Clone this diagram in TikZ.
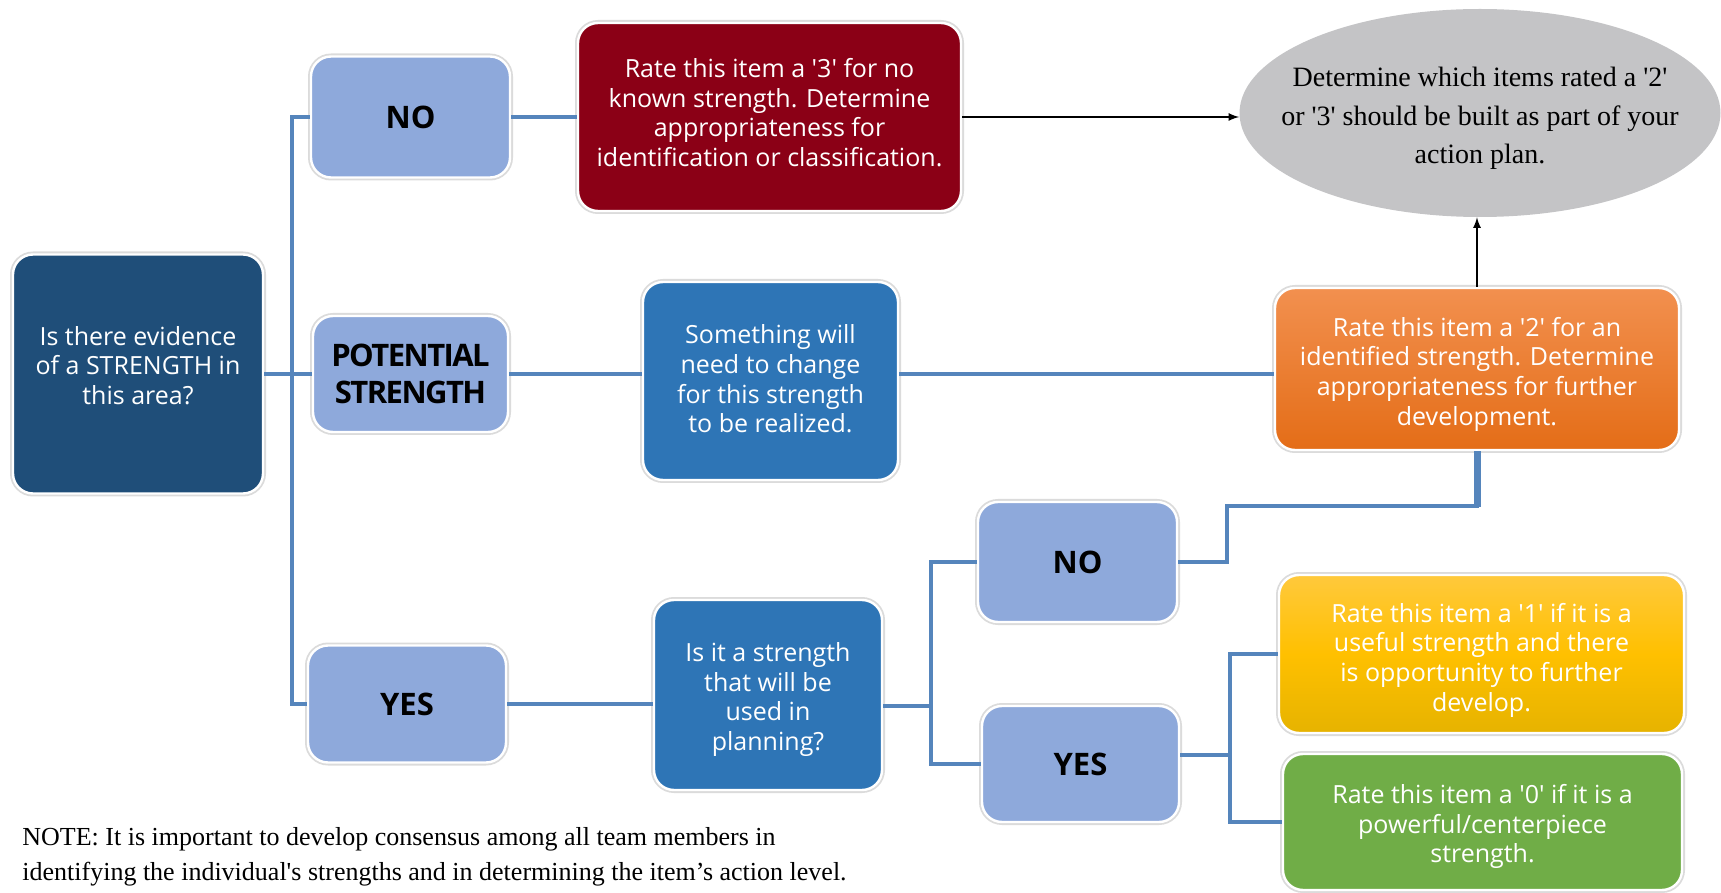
\documentclass[tikz,border=0pt]{standalone}
\usepackage{fontspec}
\setmainfont{Liberation Serif}
\setsansfont{Open Sans}
\newfontfamily\tightfont[LetterSpace=-5]{Open Sans}
\usetikzlibrary{shapes.geometric,positioning}

\definecolor{darkq}{HTML}{1F4E79}
\definecolor{paleblue}{HTML}{8EA9DB}
\definecolor{midblue}{HTML}{2E75B6}
\definecolor{darkred}{HTML}{8B0016}
\definecolor{linkblue}{HTML}{5585BC}
\definecolor{ellgrey}{HTML}{C4C4C6}
\definecolor{greenbox}{HTML}{70AD47}
\definecolor{orangetop}{HTML}{F2904F}
\definecolor{orangebot}{HTML}{E46D17}
\definecolor{yellowtop}{HTML}{FFC93C}
\definecolor{yellowmid}{HTML}{FFC000}
\definecolor{yellowbot}{HTML}{E6B300}
\def\q{\textquotesingle}

\begin{document}
\begin{tikzpicture}[
	x=0.5pt,
	y=-0.5pt,
	box/.style={rectangle, rounded corners=10pt, align=center,
		inner sep=0pt, draw=white, line width=1.2pt,
		preaction={draw=black!14, line width=3pt},
		font=\sffamily\fontsize{12.5}{14.8}\selectfont, text=white},
	answer/.style={box, fill=paleblue, text=black,
		font=\sffamily\bfseries\fontsize{15.5}{18.6}\selectfont},
	link/.style={draw=linkblue, line width=1.7pt},
	result/.style={draw=black, line width=0.8pt, -latex}]

\useasboundingbox (0,0) rectangle (1721,893);

% first question and its three answers
\node[box, fill=darkq, minimum width=125pt, minimum height=119.5pt]
	(q) at (138,374) {Is there evidence\\of a STRENGTH in\\this area?\vphantom{g}\\[-6pt]};
\node[answer, minimum width=99.5pt, minimum height=60.5pt]
	(no) at (410.5,117) {NO};
\node[answer, minimum width=97.5pt, minimum height=58pt,
	font=\tightfont\bfseries\fontsize{15.5}{18.6}\selectfont]
	(pot) at (410.5,374) {POTENTIAL\\STRENGTH};
\node[answer, minimum width=99pt, minimum height=58.5pt]
	(yes) at (407,704) {YES};

% middle column
\node[box, fill=darkred, minimum width=191.5pt, minimum height=94pt]
	(three) at (769.5,117) {Rate this item a \q3\q{} for no\\known strength. Determine\\
	appropriateness for\\identification or classification.\\[-10.4pt]};
\node[box, fill=midblue, minimum width=127.5pt, minimum height=99pt]
	(change) at (770.5,381) {Something will\\need to change\\for this strength\\to be realized.\\[-12.6pt]};
\node[box, fill=midblue, minimum width=114pt, minimum height=95pt]
	(used) at (768,695) {Is it a strength\\that will be\\used in\\planning?\\[-16.4pt]};

% second question answers
\node[answer, minimum width=99.5pt, minimum height=60pt]
	(nob) at (1077.5,562) {NO};
\node[answer, minimum width=98.5pt, minimum height=58pt]
	(yesb) at (1080.5,764) {YES};

% right column (ratings)
\node[ellipse, fill=ellgrey, inner xsep=-30pt, inner ysep=0pt,
	minimum width=240.5pt, minimum height=104pt, align=center,
	font=\fontsize{14}{19.2}\selectfont]
	(plan) at (1480,113) {Determine which items rated a \q2\q\\
	or \q3\q{} should be built as part of your\\action plan.\\[-21.8pt]};
\node[box, top color=orangetop, bottom color=orangebot,
	minimum width=202pt, minimum height=81pt]
	(two) at (1477,369) {Rate this item a \q2\q{} for an\\identified strength. Determine\\
	appropriateness for further\\development.\\[-16.9pt]};
\node[box, top color=yellowtop, bottom color=yellowbot, middle color=yellowmid,
	minimum width=202.5pt, minimum height=79pt]
	(one) at (1481.5,654) {Rate this item a \q1\q{} if it is a\\useful strength and there\\
	is opportunity to further\\develop.\\[-18pt]};
\node[box, fill=greenbox, minimum width=199.5pt, minimum height=68pt]
	(zero) at (1482.5,822) {Rate this item a \q0\q{} if it is a\\powerful/centerpiece\\strength.\\[-16.4pt]};

% note
\node[anchor=west, align=left, inner sep=0pt, font=\fontsize{13}{17.5}\selectfont]
	(note) at (22,857) {NOTE: It is important to develop consensus among all team members in\\
	identifying the individual\q s strengths and in determining the item’s action level.};

% links
\coordinate (trunk) at (292,374);
\coordinate (fork) at (931,706);
\coordinate (bend) at (1227,506);
\coordinate (split) at (1230,755);

\draw[link] (q.east) -- (pot.west);
\draw[link] (no.west) -| (trunk) |- (yes.west);
\draw[link] (no.east) -- (three.west);
\draw[link] (pot.east) -- (pot.east -| change.west);
\draw[link] (pot.east -| change.east) -- (pot.east -| two.west);
\draw[link] (yes.east) -- (yes.east -| used.west);
\draw[link] (used.east |- fork) -- (fork);
\draw[link] (nob.west) -| (fork) |- (yesb.west);
\draw[link] (nob.east) -| (bend) -| (two.south);
\draw[link, line width=3.5pt] (two.south) -- +(0,56);
\draw[link] (yesb.east |- split) -- (split);
\draw[link] (one.west) -| (split) |- (zero.west);

\draw[result] (three.east) -- (three.east -| plan.west);
\draw[result] (two.north) -- (two.north |- plan.south);
\end{tikzpicture}
\end{document}
